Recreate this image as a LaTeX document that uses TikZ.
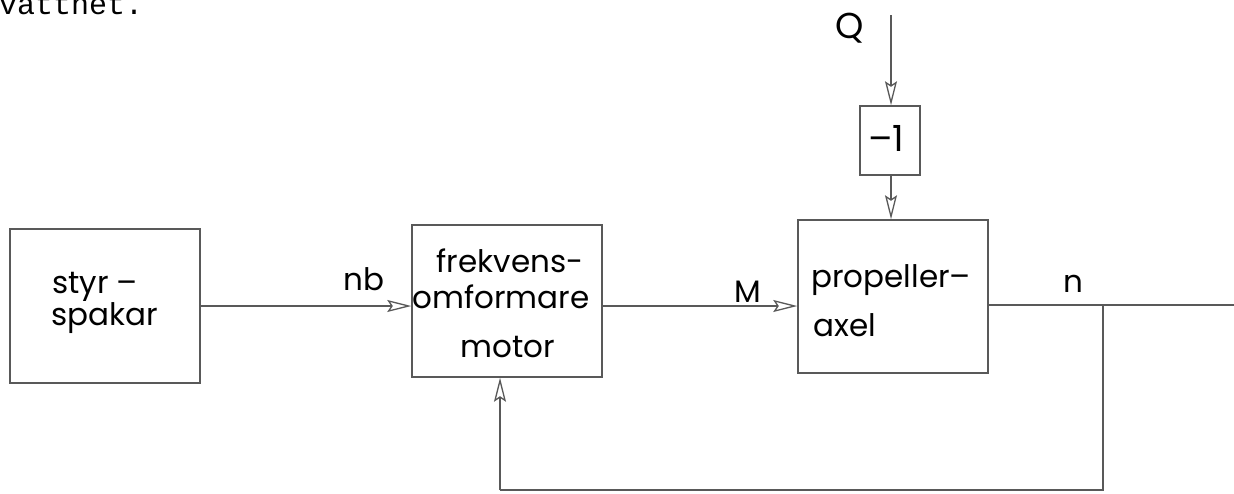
\documentclass[tikz,border=0pt]{standalone}
\usepackage{fontspec}
\setmainfont{Poppins}
\newfontfamily\typew{Liberation Mono}
\usetikzlibrary{arrows.meta}
\definecolor{linecol}{gray}{0.35}
\tikzset{
  blockbox/.style={draw=linecol, line width=1.5pt, inner sep=0pt, rectangle},
  lbl/.style={inner sep=0pt, anchor=base, text=black, font=\fontsize{31}{34}\selectfont},
  conn/.style={draw=linecol, line width=1.5pt},
  arr/.style={conn, -{Stealth[open, length=24pt, width=12pt, inset=4pt, line width=1.3pt]}}
}
\begin{document}
\begin{tikzpicture}[x=1pt, y=-1pt]
\useasboundingbox (0,0) rectangle (1234,493);
% top text fragment
\node[inner sep=0pt, anchor=base west, font=\typew\fontsize{30}{32}\selectfont] (vat) at (-1,14) {vattnet.};
% boxes
\node[blockbox, minimum width=190pt, minimum height=154pt] (b1) at (105,306) {};
\node[blockbox, minimum width=190pt, minimum height=152pt] (b2) at (507,301) {};
\node[blockbox, minimum width=190pt, minimum height=153pt] (b3) at (893,296.5) {};
\node[blockbox, minimum width=60pt, minimum height=69pt] (m1) at (890,140.5) {};
% box texts
\node[lbl] (t1a) at (95,293) {styr –};
\node[lbl] (t1b) at (105,325) {spakar};
\node[lbl] (t2a) at (510,272) {frekvens-};
\node[lbl] (t2b) at (501,308) {omformare};
\node[lbl] (t2c) at (508,357) {motor};
\node[lbl] (t3a) at (891,287) {propeller–};
\node[lbl] (t3b) at (845,336) {axel};
\node[lbl, font=\fontsize{36}{38}\selectfont] (tm1) at (886,151) {–1};
% signal labels
\node[lbl] (lnb) at (364,290) {nb};
\node[lbl] (lM) at (748,302) {M};
\node[lbl] (ln) at (1073,292) {n};
\node[lbl, font=\fontsize{36}{38}\selectfont] (lQ) at (850,38) {Q};
% coordinates
\coordinate (qtop) at (891,15);
\coordinate (out) at (1234,305);
\coordinate (br) at (1103,305);
\coordinate (fb1) at (1103,490);
\coordinate (fb2) at (500,490);
% connectors
\draw[arr] (qtop) -- (qtop |- m1.north);
\draw[arr] (m1.south -| qtop) -- (qtop |- b3.north);
\draw[arr] (b1.east) -- (b1.east -| b2.west);
\draw[arr] (b2.east |- 0,306) -- (b3.west |- 0,306);
\draw[conn] (b3.east |- out) -- (out);
\draw[conn] (br) -- (fb1) -- (fb2);
\draw[arr] (fb2) -- (fb2 |- b2.south);
\end{tikzpicture}
\end{document}
